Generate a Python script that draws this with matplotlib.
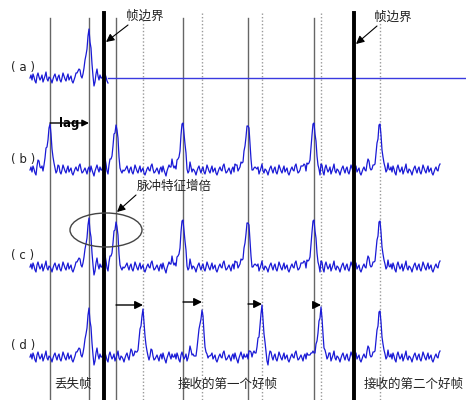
import numpy as np
import matplotlib
matplotlib.use("Agg")
import matplotlib.pyplot as plt
from matplotlib.patches import Ellipse

plt.rcParams['font.family'] = ['Noto Sans CJK SC', 'DejaVu Sans']

# sample positions (screen units) of the pulses in each trace
row_labels = ["( a )", "( b )", "( c )", "( d )"]
baselines = [78, 170, 267, 357]
trace_start = [30, 30, 30, 30]
trace_end = [108, 440, 440, 440]
peaks_a = [89]
peaks_b = [50, 116, 183, 248, 314, 380]
peaks_c = [89, 116, 183, 248, 314, 380]
peaks_d = [89, 143, 202, 262, 321, 380]
all_peaks = [peaks_a, peaks_b, peaks_c, peaks_d]

# pulse shape, one value per sample, offsets -13..+9
pulse_shape = [2, 5, 8, 5, 2, 1, 3, 6, 10, 16, 24, 33, 41, 46, 38, 26, 14, 5, -2, -3, 2, 4, 1]
pulse_offset = -13

# background noise of the received signal
noise = [0, 3, -2, 4, 1, -3, -5, 2, 5, 1, -2, 0, 3, -4, -1, 2, 6, -1, -3, 1,
         0, -2, -5, -1, 2, 4, 0, -3, 1, 3, -2, -4, 0, 5, 2, -1, -3, 1, 4, -2,
         0, 2, -3, -5, -2, 1, 3, 0, -1, 4, 6, 1, -3, -2, 0, 2, -1, -4, 1, 3,
         -2, 4, 0, -3, -6, -1, 2, 5, 1, -2, 3, 0]

# reference lines
pulse_lines = [50, 89, 116, 183, 248, 314]
shifted_lines = [143, 202, 262, 321, 380]
frame_bounds = [104, 354]
shift_arrows = [(116, 143, 305), (183, 202, 302), (248, 262, 304), (314, 321, 305)]

fig = plt.figure(figsize=(4.66, 4.0), dpi=100)
ax = fig.add_axes([0, 0, 1, 1])
ax.set_xlim(0, 466)
ax.set_ylim(400, 0)
ax.axis('off')

for x in pulse_lines:
    ax.plot([x, x], [18, 400], color='#666666', lw=1.0, zorder=1)
for x in shifted_lines:
    ax.plot([x, x], [13, 400], color='#999999', lw=1.0, ls=(0, (1, 1.5)), zorder=1)
for x in frame_bounds:
    ax.plot([x, x], [13, 400], color='black', lw=2.8, zorder=3)

for i in range(4):
    xs = np.arange(trace_start[i], trace_end[i] + 1)
    ys = np.array([noise[k % len(noise)] for k in range(len(xs))], dtype=float)
    for p in all_peaks[i]:
        for j, v in enumerate(pulse_shape):
            idx = p + pulse_offset + j - trace_start[i]
            if 0 <= idx < len(xs):
                ys[idx] += v
    ax.plot(xs, baselines[i] - ys, color='#1a1ad6', lw=0.9, zorder=2)
    ax.text(11, baselines[i] - 11, row_labels[i], fontsize=8.5, ha='left', va='center',
            color='#222222', family='DejaVu Sans')

# trace (a) stops at the frame boundary
ax.plot([108, 466], [baselines[0], baselines[0]], color='#3a3ae0', lw=1.0, zorder=2)

# lag arrow
ax.text(59, 123, "lag", fontsize=8.5, fontweight='bold', ha='left', va='center',
        family='DejaVu Sans')
ax.annotate("", xy=(89, 123), xytext=(50, 123),
            arrowprops=dict(arrowstyle='-|>', color='black', lw=1.0, mutation_scale=10,
                            shrinkA=0, shrinkB=0))

for x0, x1, y in shift_arrows:
    ax.annotate("", xy=(x1, y), xytext=(x0, y),
                arrowprops=dict(arrowstyle='-|>', color='black', lw=1.0,
                                mutation_scale=12, shrinkA=0, shrinkB=0))

ax.text(126, 16, "帧边界", fontsize=9, ha='left', va='center', color='#222222')
ax.annotate("", xy=(106, 42), xytext=(128, 25),
            arrowprops=dict(arrowstyle='-|>', color='black', lw=0.8, mutation_scale=12,
                            shrinkA=0, shrinkB=0))
ax.text(374, 17, "帧边界", fontsize=9, ha='left', va='center', color='#222222')
ax.annotate("", xy=(356, 44), xytext=(377, 26),
            arrowprops=dict(arrowstyle='-|>', color='black', lw=0.8, mutation_scale=12,
                            shrinkA=0, shrinkB=0))

ax.add_patch(Ellipse((106, 230), 72, 34, fill=False, edgecolor='#444444', lw=1.0, zorder=4))
ax.text(137, 186, "脉冲特征增倍", fontsize=9, ha='left', va='center', color='#222222')
ax.annotate("", xy=(117, 212), xytext=(136, 195),
            arrowprops=dict(arrowstyle='-|>', color='black', lw=0.8, mutation_scale=12,
                            shrinkA=0, shrinkB=0))

ax.text(73, 384, "丢失帧", fontsize=9, ha='center', va='center', color='#222222')
ax.text(228, 384, "接收的第一个好帧", fontsize=9, ha='center', va='center', color='#222222')
ax.text(414, 384, "接收的第二个好帧", fontsize=9, ha='center', va='center', color='#222222')

fig.savefig("out.png", dpi=100, facecolor='white')
